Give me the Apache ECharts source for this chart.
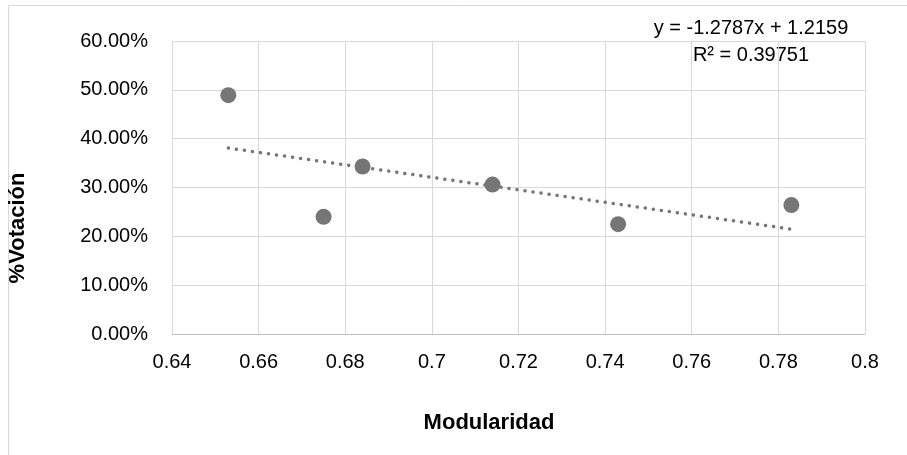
<!DOCTYPE html>
<html>
<head>
<meta charset="utf-8">
<script src="https://cdn.jsdelivr.net/npm/echarts@6/dist/echarts.min.js"></script>
<style>
  html, body { margin: 0; padding: 0; background: #fff; }
  #chart { width: 907px; height: 455px; }
</style>
</head>
<body>
<div id="chart"></div>
<script>
// datos
const modularidad = [0.653, 0.675, 0.684, 0.714, 0.743, 0.783];
const votacion = [0.489, 0.240, 0.343, 0.306, 0.225, 0.264];

// línea de tendencia (ecuación mostrada en el gráfico)
const trendSlope = -1.2787;
const trendIntercept = 1.2159;
const trendX = [0.653, 0.783];
const trendLabel = ['y = -1.2787x + 1.2159', 'R² = 0.39751'];

const xTicks = { min: 0.64, max: 0.8, interval: 0.02 };
const yTicks = { min: 0, max: 0.6, interval: 0.1 };

const font = "'Liberation Sans Narrow', 'Arial Narrow', 'Liberation Sans', sans-serif";

const chart = echarts.init(document.getElementById('chart'));

chart.setOption({
    animation: false,
    backgroundColor: '#fff',
    grid: {
        left: 172,
        right: 42,
        top: 41,
        bottom: 121
    },
    xAxis: {
        type: 'value',
        min: xTicks.min,
        max: xTicks.max,
        interval: xTicks.interval,
        name: 'Modularidad',
        nameLocation: 'middle',
        nameGap: 78,
        nameTextStyle: {
            fontFamily: font, fontWeight: 'bold', fontSize: 22, color: '#000',
            padding: [0, 59, 0, 0]
        },
        axisLine: { show: true, lineStyle: { color: '#bfbfbf', width: 1 } },
        axisTick: { show: false },
        splitLine: { show: true, lineStyle: { color: '#d9d9d9', width: 1 } },
        axisLabel: {
            fontFamily: font,
            fontSize: 20,
            color: '#000',
            margin: 18,
            formatter: v => String(Math.round(v * 100) / 100)
        }
    },
    yAxis: {
        type: 'value',
        min: yTicks.min,
        max: yTicks.max,
        interval: yTicks.interval,
        axisLine: { show: false },
        axisTick: { show: false },
        splitLine: { show: true, lineStyle: { color: '#d9d9d9', width: 1 } },
        axisLabel: {
            fontFamily: font,
            fontSize: 20,
            color: '#000',
            margin: 24,
            formatter: v => (v * 100).toFixed(2) + '%'
        }
    },
    graphic: [
        {
            type: 'rect',
            silent: true,
            shape: { x: 8.5, y: 5.5, width: 910, height: 470 },
            style: { fill: 'none', stroke: '#d9d9d9', lineWidth: 1 }
        },
        {
            type: 'text',
            x: 18,
            y: 228,
            rotation: Math.PI / 2,
            style: {
                text: '%Votación',
                font: "bold 22px 'Liberation Sans Narrow', 'Arial Narrow', 'Liberation Sans', sans-serif",
                fill: '#000',
                textAlign: 'center',
                textVerticalAlign: 'middle'
            }
        },
        {
            type: 'text',
            x: 751,
            y: 28,
            style: {
                text: trendLabel[0],
                font: "20px 'Liberation Sans Narrow', 'Arial Narrow', 'Liberation Sans', sans-serif",
                fill: '#000',
                textAlign: 'center',
                textVerticalAlign: 'middle'
            }
        },
        {
            type: 'text',
            x: 751,
            y: 55,
            style: {
                text: trendLabel[1],
                font: "20px 'Liberation Sans Narrow', 'Arial Narrow', 'Liberation Sans', sans-serif",
                fill: '#000',
                textAlign: 'center',
                textVerticalAlign: 'middle'
            }
        }
    ],
    series: [
        {
            type: 'line',
            data: trendX.map(x => [x, trendSlope * x + trendIntercept]),
            symbol: 'none',
            silent: true,
            z: 1,
            lineStyle: { color: '#767676', width: 3.5, type: [0.1, 8], cap: 'round' }
        },
        {
            type: 'scatter',
            data: modularidad.map((x, i) => [x, votacion[i]]),
            symbolSize: 16,
            z: 2,
            itemStyle: { color: '#767676', opacity: 1 }
        }
    ]
});
</script>
</body>
</html>
